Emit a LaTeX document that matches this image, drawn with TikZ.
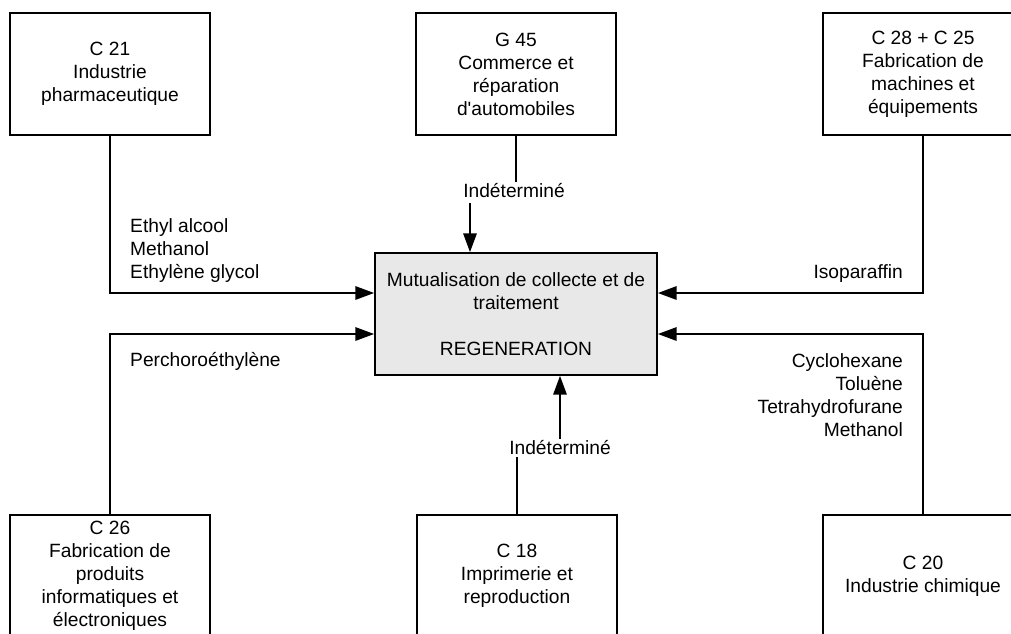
\documentclass[tikz,border=0pt]{standalone}
\usepackage{fontspec}
\setmainfont{Liberation Sans}
\usetikzlibrary{arrows.meta, positioning, calc}

\begin{document}
\begin{tikzpicture}[
  x=0.75pt, y=-0.75pt,
  sector/.style={rectangle, draw, line width=1.3pt, minimum width=150pt, minimum height=91.5pt, align=center, inner sep=2pt},
  hubbox/.style={sector, fill=black!9, minimum width=211.5pt},
  flow/.style={inner sep=1pt},
  >={Triangle[length=14pt, width=10pt]}, line width=1.3pt,
  every node/.style={font=\fontsize{14.4}{17.25}\selectfont}
]
  \useasboundingbox (0,0) rectangle (1011,633);
  \clip (0,0) rectangle (1011,633);

  % central box
  \node[hubbox] (hub) at (516,314) {Mutualisation de collecte et de\\traitement\\[17.25pt]REGENERATION};

  % sectors
  \node[sector] (c21) at (110,74)  {C 21\\Industrie\\pharmaceutique};
  \node[sector] (g45) at (516,74)  {G 45\\Commerce et\\réparation\\d\textquotesingle automobiles};
  \node[sector] (c28) at (923,74)  {C 28 + C 25\\Fabrication de\\machines et\\équipements};
  \node[sector] (c26) at (110,576) {C 26\\Fabrication de\\produits\\informatiques et\\électroniques};
  \node[sector] (c18) at (517,576) {C 18\\Imprimerie et\\reproduction};
  \node[sector] (c20) at (923,576) {C 20\\Industrie chimique};

  % solvents
  \node[flow, anchor=west, align=left]  (sA) at (128,251) {Ethyl alcool\\Methanol\\Ethylène glycol};
  \node[flow, anchor=west, align=left]  (sB) at (128,361) {Perchoroéthylène};
  \node[flow, anchor=east, align=right] (sC) at (905,274) {Isoparaffin};
  \node[flow, anchor=east, align=right] (sD) at (905,395) {Cyclohexane\\Toluène\\Tetrahydrofurane\\Methanol};
  \node[flow] (ind1) at (514,191) {Indéterminé};
  \node[flow] (ind2) at (560,448) {Indéterminé};
  \coordinate (a1) at (470,203);

  \draw[->] (c21.south) |- ($(hub.west)+(0,-21)$);
  \draw[->] (c26.north) |- ($(hub.west)+(0,20)$);
  \draw[->] (c28.south) |- ($(hub.east)+(0,-21)$);
  \draw[->] (c20.north) |- ($(hub.east)+(0,20)$);
  \draw (g45.south) -- (g45.south |- ind1.north);
  \draw[->] (a1) -- (a1 |- hub.north);
  \draw (c18.north) -- (c18.north |- ind2.south);
  \draw[->] (ind2.north) -- (ind2.north |- hub.south);
\end{tikzpicture}
\end{document}
